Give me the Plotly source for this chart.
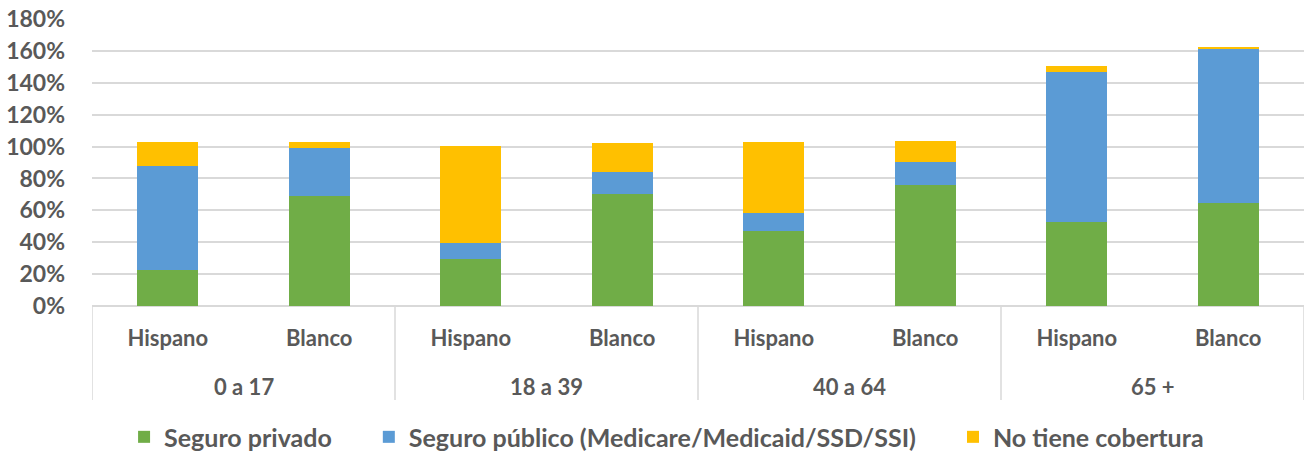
import plotly.graph_objects as go

groups = ["0 a 17", "18 a 39", "40 a 64", "65 +"]
subcats = ["Hispano", "Blanco"]
privado = [22.4, 69.1, 29.5, 70.1, 47.3, 75.8, 52.7, 64.7]
publico = [65.1, 29.7, 10.3, 14.0, 11.3, 14.4, 93.8, 97.1]
sin_cobertura = [15.4, 4.2, 60.6, 18.2, 44.2, 13.4, 4.2, 0.6]
series_names = ["Seguro privado", "Seguro público (Medicare/Medicaid/SSD/SSI)", "No tiene cobertura"]
colors = ["#70AD47", "#5B9BD5", "#FFC000"]
y_ticks = [0, 20, 40, 60, 80, 100, 120, 140, 160, 180]

FONT = "Lato"
GRAY = "#595959"
GRID = "#D9D9D9"

labels = [f"<b>{s}</b>" for g in groups for s in subcats]
xpos = list(range(len(labels)))
pad = "&nbsp;" * 5

fig = go.Figure()
for k, (name, vals, col) in enumerate(zip(series_names, [privado, publico, sin_cobertura], colors)):
    suffix = pad if k < len(series_names) - 1 else ""
    fig.add_trace(go.Bar(
        x=xpos, y=[v / 100 for v in vals], name=f"<b>{name}</b>{suffix}",
        marker=dict(color=col, line=dict(width=0)),
        width=0.4,
    ))

# group labels and dividers
for i, g in enumerate(groups):
    fig.add_annotation(x=2 * i + 0.5, y=-0.279, xref="x", yref="paper", text=f"<b>{g}</b>",
                       showarrow=False, yanchor="middle",
                       font=dict(family=FONT, size=22, color=GRAY))
for i in range(len(groups) + 1):
    fig.add_shape(type="line", xref="x", yref="paper", x0=2 * i - 0.5, x1=2 * i - 0.5,
                  y0=0, y1=-0.3275, line=dict(color=GRID, width=1.5))

fig.update_layout(
    barmode="stack",
    width=1307, height=452,
    margin=dict(l=92, r=3, t=19, b=146, autoexpand=False),
    plot_bgcolor="white", paper_bgcolor="white",
    font=dict(family=FONT, color=GRAY, size=22),
    legend=dict(orientation="h", xref="container", yref="container",
                x=0.510, xanchor="center", y=0.033, yanchor="middle",
                font=dict(family=FONT, size=25, color=GRAY),
                itemwidth=30, traceorder="normal"),
    xaxis=dict(range=[-0.5, 7.5], tickvals=xpos, ticktext=labels, showgrid=False,
               zeroline=False, showline=False, ticks="", automargin=False,
               ticklabelstandoff=17,
               tickfont=dict(family=FONT, size=22, color=GRAY)),
    yaxis=dict(range=[0, 1.8], tickvals=[t / 100 for t in y_ticks],
               ticktext=[f"<b>{t}%</b>" for t in y_ticks],
               showgrid=True, gridcolor=GRID, gridwidth=1.5,
               zeroline=True, zerolinecolor=GRID, zerolinewidth=1.5,
               showline=False, ticks="", ticklabelstandoff=26, automargin=False,
               tickfont=dict(family=FONT, size=23, color=GRAY)),
)

fig.write_html("out.html", config={"displayModeBar": False},
               post_script="document.body.style.margin='0';document.body.style.overflow='hidden';")
